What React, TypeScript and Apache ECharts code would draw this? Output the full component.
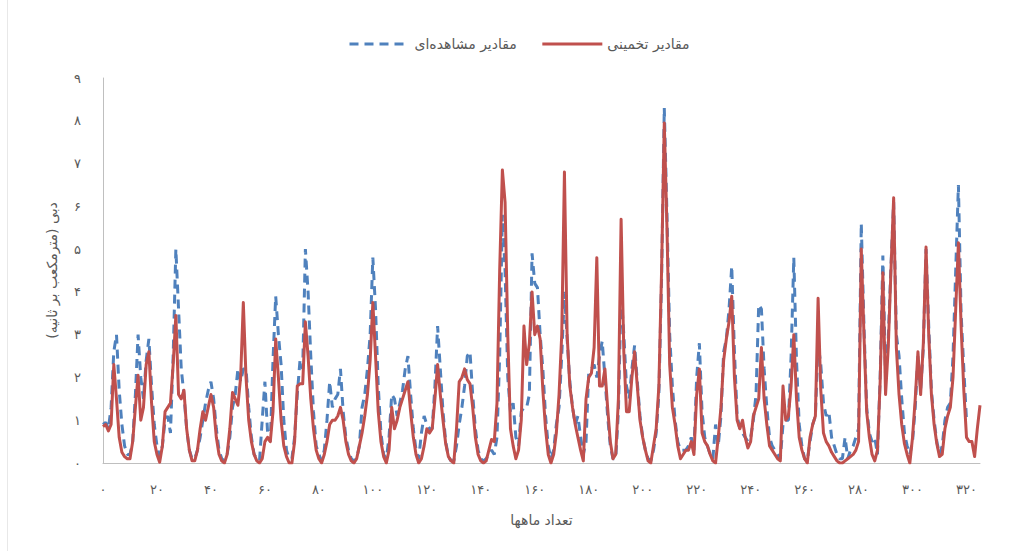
import React, { useEffect, useRef } from "react";
import * as echarts from "echarts";

const seriesNames = ["مقادیر مشاهده‌ای", "مقادیر تخمینی"];
const xTitle = "تعداد ماهها";
const yTitle = "دبی (مترمکعب بر ثانیه)";

const observed: (number | null)[] = [
  0.9, 0.95, 0.8, 1.3, 2.6, 3.0, 1.7, 0.9, 0.4, 0.2,
  0.2, 0.5, 1.6, 3.0, 2.0, 1.5, 2.4, 2.9, 1.8, 0.9,
  0.4, 0.15, 0.4, 1.0, 1.1, 0.7, 2.5, 5.0, 3.6, 2.2,
  1.6, 0.8, 0.3, 0.1, 0.1, 0.3, 0.6, 1.0, 1.4, 1.7,
  1.9, 1.5, 0.8, 0.3, 0.1, 0.05, 0.2, 0.6, 1.3, 1.6,
  2.2, 1.9, 2.2, 2.2, 1.3, 0.6, 0.2, 0.1, 0.05, 1.0,
  1.9, 0.7, 0.5, 2.4, 3.9, 3.0, 2.3, 1.0, 0.3, 0.1,
  0.1, 0.6, 1.6, 2.4, 2.2, 5.0, 4.0, 2.5, 1.2, 0.4,
  0.2, 0.05, 0.3, 1.0, 1.9, 1.3, 1.5, 1.6, 2.2, 1.2,
  0.6, 0.3, 0.1, 0.05, 0.1, 0.4, 1.3, 1.6, 2.2, 3.0,
  4.8, 3.6, 1.8, 0.7, 0.2, 0.1, 0.6, 1.6, 1.5, 1.1,
  1.4, 1.7, 2.2, 2.5, 1.6, 0.8, 0.3, 0.1, 0.7, 1.1,
  0.9, 0.8, 0.8, 1.8, 3.2, 2.2, 1.2, 0.5, 0.15, 0.05,
  0.05, 0.4, 0.9, 1.3, 1.8, 2.5, 2.6, 1.6, 0.8, 0.3,
  0.1, 0.05, 0.1, 0.2, 0.3, 0.2, 0.6, 2.5, 5.8, 4.5,
  2.0, 1.2, 1.4, 0.6, 0.4, 1.2, 1.3, 1.3, 1.6, 4.9,
  4.2, 4.1, 3.0, 2.2, 1.1, 0.4, 0.1, 0.3, 0.9, 1.3,
  2.5, 4.0, 2.9, 1.9, 1.3, 0.9, 1.1, 0.6, 0.2, 0.5,
  2.1, 2.2, 2.3, 2.0, 2.5, 2.85, 2.0, 1.1, 0.4, 0.1,
  0.1, 1.2, 4.0, 3.0, 1.8, 1.5, 2.2, 2.75, 1.9, 1.1,
  0.6, 0.3, 0.1, 0.05, 0.3, 0.7, 1.6, 4.3, 8.3, 5.8,
  3.0, 1.8, 1.0, 0.5, 0.3, 0.3, 0.3, 0.4, 0.6, 0.3,
  2.0, 2.8, 1.2, 0.6, 0.4, 0.2, 0.1, 0.9, 0.4, 1.1,
  2.6, 2.9, 3.6, 4.6, 2.6, 1.1, 0.8, 0.7, 0.6, 0.5,
  0.6, 1.0, 1.6, 3.7, 3.6, 2.2, 1.3, 0.6, 0.4, 0.3,
  0.2, 0.1, 0.9, 1.0, 1.0, 2.5, 4.8, 2.4, 0.9, 0.4,
  0.1, 0.05, 0.5, 0.9, 1.1, 2.8, 2.3, 1.4, 1.1, 1.2,
  0.6, 0.4, 0.2, 0.1, 0.1, 0.6, 0.1, 0.3, 0.4, 0.6,
  0.8, 5.6, 3.2, 1.3, 0.7, 0.5, 0.6, 0.2, 2.0, 4.85,
  2.0, 2.9, 4.6, 6.1, 3.0, 2.5, 1.5, 0.7, 0.4, 0.2,
  0.5, 1.3, 2.5, 1.7, 2.7, 5.0, 3.2, 1.7, 1.0, 0.5,
  0.2, 0.4, 1.0, 1.3, 1.4, 2.5, 4.5, 6.5, 3.5, 2.2,
  1.0, null, null, null, null, null,
];

const estimated: number[] = [
  0.85, 0.9, 0.75, 0.9, 2.3, 1.5, 0.6, 0.25, 0.15, 0.1,
  0.1, 0.5, 1.3, 2.05, 1.0, 1.3, 2.3, 2.6, 1.4, 0.5,
  0.2, 0.02, 0.4, 1.2, 1.3, 1.4, 2.3, 3.45, 1.6, 1.5,
  1.7, 0.8, 0.3, 0.05, 0.05, 0.3, 0.8, 1.2, 1.0, 1.3,
  1.6, 1.3, 0.6, 0.2, 0.05, 0.0, 0.2, 0.8, 1.65, 1.5,
  1.35, 2.0, 3.75, 2.0, 1.0, 0.5, 0.2, 0.05, 0.0, 0.1,
  0.5, 0.6, 0.5, 1.2, 2.9, 2.0, 1.0, 0.4, 0.15, 0.0,
  0.0, 0.5, 1.8, 1.85, 1.85, 3.3, 2.5, 1.5, 0.8, 0.3,
  0.1, 0.0, 0.2, 0.5, 0.9, 1.0, 1.0, 1.1, 1.3, 1.0,
  0.5, 0.2, 0.05, 0.0, 0.1, 0.4, 0.7, 1.1, 1.6, 2.4,
  3.75, 2.5, 1.2, 0.5, 0.15, 0.0, 0.3, 1.3, 0.8, 1.0,
  1.3, 1.5, 1.7, 1.9, 1.2, 0.6, 0.2, 0.0, 0.1, 0.4,
  0.8, 0.7, 0.8, 1.5, 2.3, 1.6, 1.0, 0.45, 0.15, 0.05,
  0.0, 0.8, 1.9, 2.0, 2.2, 1.95, 1.85, 1.3, 0.6, 0.2,
  0.05, 0.0, 0.05, 0.3, 0.55, 0.5, 1.4, 4.5, 6.85, 6.1,
  3.0, 0.8, 0.4, 0.1, 0.3, 1.0, 3.2, 2.3, 2.8, 4.0,
  3.0, 3.2, 2.9, 1.7, 0.8, 0.2, 0.0, 0.2, 0.7, 1.6,
  3.0, 6.8, 3.0, 1.8, 1.3, 0.9, 0.6, 0.3, 0.05, 1.5,
  2.0, 2.1, 2.7, 4.8, 1.8, 1.8, 2.2, 1.3, 0.5, 0.1,
  0.2, 1.5, 5.7, 2.6, 1.2, 1.2, 2.0, 2.6, 1.8, 1.0,
  0.6, 0.3, 0.05, 0.0, 0.4, 0.8, 1.8, 4.5, 7.95, 5.5,
  2.3, 1.3, 0.9, 0.4, 0.1, 0.2, 0.3, 0.3, 0.5, 0.2,
  1.6, 2.2, 0.7, 0.5, 0.4, 0.2, 0.05, 0.0, 0.6, 1.3,
  2.4, 2.9, 3.3, 3.9, 2.0, 1.0, 0.8, 1.0, 0.6, 0.35,
  0.5, 1.1, 1.3, 1.5, 2.7, 1.5, 0.9, 0.4, 0.3, 0.2,
  0.1, 0.05, 1.8, 1.0, 1.1, 1.8, 3.0, 1.5, 0.6, 0.3,
  0.1, 0.0, 0.6, 0.9, 1.1, 3.85, 1.7, 0.7, 0.5, 0.4,
  0.25, 0.15, 0.05, 0.0, 0.0, 0.05, 0.1, 0.15, 0.2, 0.3,
  0.5, 5.0, 3.0, 1.2, 0.6, 0.2, 0.05, 0.3, 1.9, 4.45,
  1.6, 2.7, 4.5, 6.2, 2.7, 1.6, 0.9, 0.45, 0.2, 0.0,
  0.6, 1.5, 2.6, 1.6, 2.8, 5.05, 3.0, 1.6, 0.9, 0.45,
  0.15, 0.2, 0.8, 1.1, 1.3, 2.0, 3.6, 5.15, 3.2, 1.7,
  0.6, 0.5, 0.5, 0.15, 0.8, 1.35,
];

const months: string[] = estimated.map((_, i) => String(i));

const faDigits = "۰۱۲۳۴۵۶۷۸۹";
const toFa = (s: string | number) =>
  String(s).replace(/\d/g, (d) => faDigits[Number(d)]);

const FONT = "'DejaVu Sans', sans-serif";

export default function App() {
  const ref = useRef<HTMLDivElement>(null);
  useEffect(() => {
    document.body.style.margin = "0";
    const chart = echarts.init(ref.current!, null, { renderer: "svg" });
    chart.setOption({
      animation: false,
      backgroundColor: "#ffffff",
      textStyle: { fontFamily: FONT },
      legend: {
        top: 32,
        left: 343,
        itemWidth: 60,
        itemHeight: 14,
        itemGap: 24,
        itemStyle: { opacity: 0 },
        lineStyle: { width: 3 },
        textStyle: { color: "#595959", fontSize: 14, fontFamily: FONT },
        data: seriesNames,
      },
      grid: { left: 103, right: 29, top: 78, bottom: 88 },
      xAxis: {
        type: "category",
        data: months,
        boundaryGap: false,
        name: xTitle,
        nameLocation: "middle",
        nameGap: 50,
        nameTextStyle: { color: "#595959", fontSize: 14, fontFamily: FONT },
        axisLine: { lineStyle: { color: "#bfbfbf", width: 1 } },
        axisTick: { show: false },
        axisLabel: {
          interval: 19,
          color: "#595959",
          fontSize: 13,
          margin: 20,
          fontFamily: FONT,
          formatter: (v: string) => toFa(v),
        },
        splitLine: { show: false },
      },
      yAxis: {
        type: "value",
        min: 0,
        max: 9,
        interval: 1,
        name: yTitle,
        nameLocation: "middle",
        nameGap: 44,
        nameTextStyle: { color: "#595959", fontSize: 14, fontFamily: FONT },
        axisLine: { show: true, lineStyle: { color: "#bfbfbf", width: 1 } },
        axisTick: { show: false },
        axisLabel: {
          color: "#595959",
          fontSize: 13,
          margin: 22,
          fontFamily: FONT,
          formatter: (v: number) => toFa(v),
        },
        splitLine: { show: false },
      },
      series: [
        {
          name: seriesNames[0],
          type: "line",
          data: observed,
          showSymbol: false,
          symbol: "none",
          connectNulls: false,
          lineStyle: { color: "#4F81BD", width: 3, type: [9, 6] },
          itemStyle: { color: "#4F81BD" },
        },
        {
          name: seriesNames[1],
          type: "line",
          data: estimated,
          showSymbol: false,
          symbol: "none",
          lineStyle: { color: "#C0504D", width: 3, join: "round" },
          itemStyle: { color: "#C0504D" },
        },
      ],
      graphic: [
        {
          type: "line",
          shape: { x1: 7.5, y1: 0, x2: 7.5, y2: 551 },
          style: { stroke: "#e8e8e8", lineWidth: 1 },
          silent: true,
        },
      ],
    });
    return () => chart.dispose();
  }, []);
  return <div ref={ref} style={{ width: 1009, height: 551 }} />;
}
